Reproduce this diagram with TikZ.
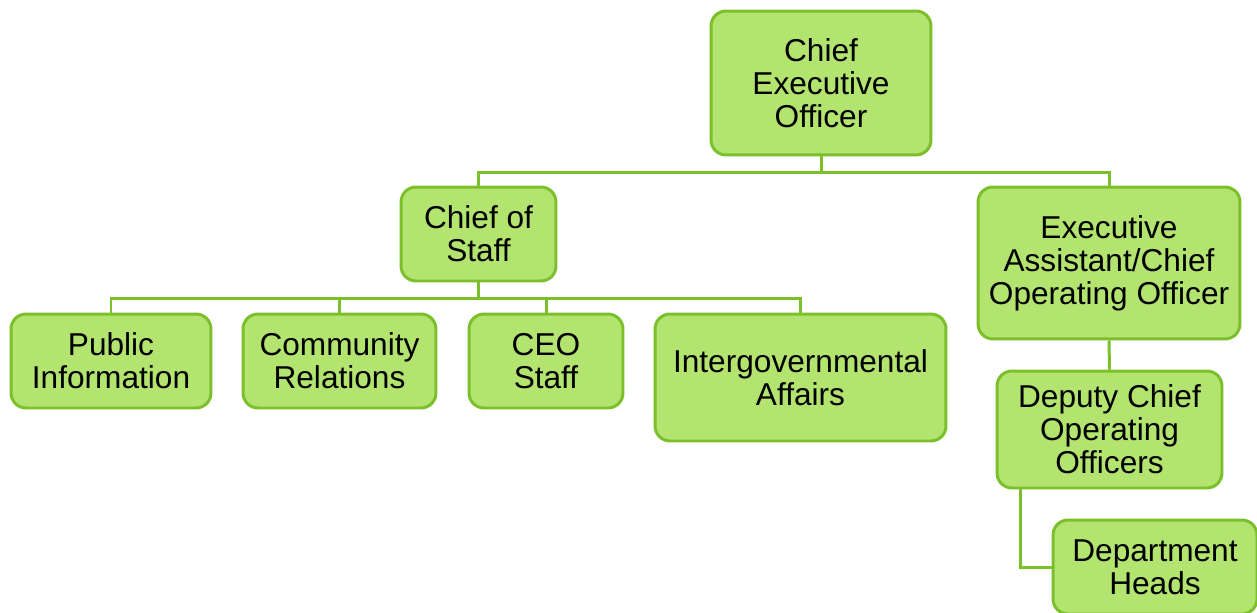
\documentclass[tikz,border=0pt]{standalone}
\usepackage{fontspec}
\setmainfont{Liberation Sans}
\usetikzlibrary{positioning}
\definecolor{boxfill}{HTML}{B2E46F}
\definecolor{boxline}{HTML}{7BC02A}
\tikzset{every picture/.style={font issue=\fontsize{18}{18.8}},
         font issue/.style={execute at begin picture={#1\selectfont}},
         orgbox/.style={draw=boxline, fill=boxfill, line width=1.7pt, rounded corners=0.3cm, align=center, inner sep=0pt},
         link/.style={draw=boxline, line width=1.7pt}
        }
\begin{document}
\begin{tikzpicture}[x=0.02cm, y=-0.02cm]
        \useasboundingbox (0,0) rectangle (1257,612);
        \clip (0,0) rectangle (1257,612);
        \node [orgbox, minimum width=4.4cm, minimum height=2.88cm] (ceo) at (821, 83) {Chief\\Executive\\Officer};
        \node [orgbox, minimum width=3.1cm, minimum height=1.88cm] (cos) at (478.5, 234) {Chief of\\Staff};
        \node [orgbox, minimum width=5.24cm, minimum height=3.04cm] (eaco) at (1109, 263) {Executive\\Assistant/Chief\\Operating Officer};
        \node [orgbox, minimum width=4.0cm, minimum height=1.88cm] (pubinfo) at (111, 361) {Public\\Information};
        \node [orgbox, minimum width=3.86cm, minimum height=1.88cm] (comrel) at (339.5, 361) {Community\\Relations};
        \node [orgbox, minimum width=3.08cm, minimum height=1.88cm] (ceostaff) at (546, 361) {CEO\\Staff};
        \node [orgbox, minimum width=5.82cm, minimum height=2.54cm] (intergov) at (800.5, 377.5) {Intergovernmental\\Affairs};
        \node [orgbox, minimum width=4.5cm, minimum height=2.34cm] (dcoo) at (1109.5, 429.5) {Deputy Chief\\Operating\\Officers};
        \node [orgbox, minimum width=4.08cm, minimum height=1.88cm] (depthead) at (1155, 567) {Department\\Heads};
        % connectors
        \draw [link] (ceo.south) -- ++(0,16) coordinate (ceobus) -| (cos.north);
        \draw [link] (ceobus) -| (eaco.north);
        \draw [link] (cos.south) -- ++(0,16) coordinate (cosbus) -| (pubinfo.north);
        \draw [link] (cosbus) -| (comrel.north);
        \draw [link] (cosbus) -| (ceostaff.north);
        \draw [link] (cosbus) -| (intergov.north);
        \draw [link] (eaco.south) -- (dcoo.north);
        \draw [link] ([xshift=-1.79cm]dcoo.south) |- (depthead.west);
      \end{tikzpicture}
\end{document}
